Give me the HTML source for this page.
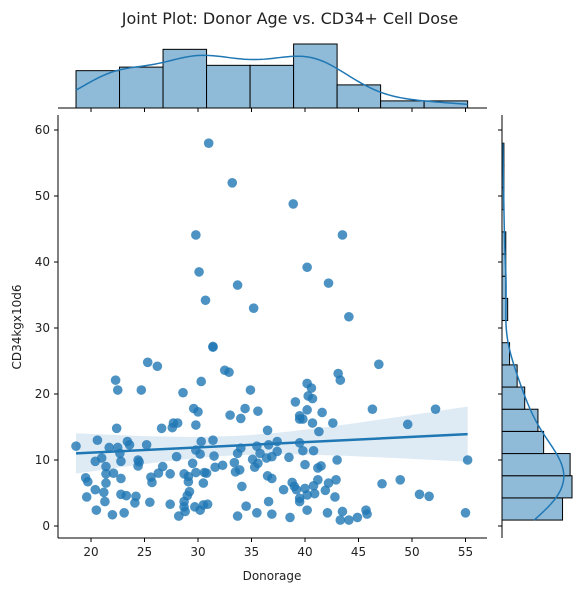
<!DOCTYPE html>
<html><head><meta charset="utf-8"><style>
body{margin:0;background:#fff;font-family:"Liberation Sans","DejaVu Sans",sans-serif}
svg text{font-family:"DejaVu Sans","Liberation Sans",sans-serif;fill:#222}
</style></head><body>
<svg id="c" width="585" height="592"></svg>
<script>
const donorAge=[18.6,20.6,20.4,21.0,21.4,21.4,22.1,22.8,21.4,19.5,19.7,20.4,21.2,19.6,21.3,20.5,22.0,23.1,22.8,23.3,24.2,24.1,25.5,22.4,22.3,22.5,24.7,25.3,26.2,21.7,22.5,22.7,22.8,23.4,23.6,24.4,24.5,24.4,25.2,26.6,27.7,28.1,27.6,28.0,26.7,26.3,25.6,25.7,27.4,28.6,29.6,30.0,29.8,30.3,31.4,32.5,32.9,30.3,29.8,30.2,29.5,31.4,31.5,31.6,32.3,28.7,29.1,29.1,29.8,30.6,30.8,30.5,29.2,29.0,28.7,28.7,29.7,28.8,28.2,27.4,30.2,30.5,30.9,33.0,34.0,34.4,34.9,35.6,33.7,33.4,33.5,33.9,34.1,34.5,33.7,35.5,34.0,35.5,35.1,35.8,35.3,35.6,36.4,36.5,36.6,36.5,36.6,36.9,36.9,36.9,
37.4,37.4,38.5,38.6,39.1,40.2,40.6,40.3,40.7,40.2,39.5,39.5,39.8,40.7,41.6,41.3,42.6,39.5,39.8,40.8,40.0,41.2,41.5,43.0,43.1,43.3,46.9,46.3,49.6,52.2,55.2,41.2,40.8,42.2,42.9,41.9,40.9,40.2,40.0,38.8,39.0,39.2,39.5,39.5,38.0,42.8,40.2,42.1,43.5,43.3,44.1,44.9,45.7,45.8,47.2,48.9,50.7,51.6,55.0,
31.0,33.2,38.9,29.8,43.5,40.2,30.1,33.7,42.2,30.7,35.2,44.1,31.4];
const cd34Dose=[12.1,13.0,9.8,10.3,9.0,7.9,8.0,7.2,6.5,7.3,6.7,5.5,5.1,4.4,3.7,2.4,1.7,2.0,4.8,4.6,4.5,3.5,3.6,14.8,22.1,20.6,20.6,24.8,24.2,11.9,11.9,11.0,9.8,12.8,12.3,10.0,9.7,9.1,12.3,14.8,15.6,15.6,14.9,10.5,9.0,8.0,7.4,6.6,7.9,20.2,17.8,17.3,15.3,21.9,27.2,23.6,23.3,12.8,11.5,10.9,9.5,13.0,10.6,8.9,9.2,7.9,7.5,6.7,8.1,8.1,8.0,6.5,5.2,4.6,3.7,2.9,2.9,2.2,1.5,3.3,2.4,3.2,3.3,16.8,16.3,17.8,20.6,17.4,11.0,9.6,8.2,8.5,6.0,3.0,1.5,2.0,11.8,12.1,10.1,11.0,8.9,9.5,10.3,14.5,12.3,7.6,3.7,1.8,7.2,10.5,
12.8,11.3,10.4,1.3,18.8,21.6,20.9,19.7,19.3,17.6,16.7,16.2,16.2,15.6,17.2,14.3,15.6,12.6,11.4,11.4,9.3,8.8,9.1,10.0,23.1,22.1,24.5,17.7,15.4,17.7,10.0,7.0,6.1,6.5,7.0,5.4,4.9,4.7,5.7,6.6,6.0,5.5,4.2,3.7,5.5,4.4,2.4,2.0,2.2,0.9,0.9,1.3,2.4,1.8,6.4,7.0,4.8,4.5,2.0,
58.0,52.0,48.8,44.1,44.1,39.2,38.5,36.5,36.8,34.2,33.0,31.7,27.1];
const xTicks=[20,25,30,35,40,45,50,55];
const yTicks=[0,10,20,30,40,50,60];
const xBinsCount=9, yBinsCount=17;

const NS="http://www.w3.org/2000/svg",svg=document.getElementById('c');
function mk(t,a,p){const e=document.createElementNS(NS,t);for(const k in a)e.setAttribute(k,a[k]);(p||svg).appendChild(e);return e;}
const L=58,R=487,T=115,B=538;
const sx=v=>91+(v-20)*10.7, sy=v=>526-v*6.6;
const n=donorAge.length;
let mx=0,my=0;for(let i=0;i<n;i++){mx+=donorAge[i];my+=cd34Dose[i];}mx/=n;my/=n;
let sxx=0,sxy=0;for(let i=0;i<n;i++){sxx+=(donorAge[i]-mx)**2;sxy+=(donorAge[i]-mx)*(cd34Dose[i]-my);}
const b1=sxy/sxx,b0=my-b1*mx;let sse=0;for(let i=0;i<n;i++)sse+=(cd34Dose[i]-b0-b1*donorAge[i])**2;
const s=Math.sqrt(sse/(n-2));
const xmin=Math.min(...donorAge),xmax=Math.max(...donorAge);
let up=[],lo=[];for(let k=0;k<=50;k++){const x=xmin+(xmax-xmin)*k/50,yh=b0+b1*x,se=s*Math.sqrt(1/n+(x-mx)**2/sxx)*1.97;up.push(sx(x)+','+sy(yh+se));lo.unshift(sx(x)+','+sy(yh-se));}
const band=mk('polygon',{points:up.concat(lo).join(' '),fill:'#1f77b4','fill-opacity':0.15});

const g=mk('g',{});
for(let i=0;i<n;i++){const c=mk('circle',{cx:sx(donorAge[i]),cy:sy(cd34Dose[i]),r:4.8,fill:'#1f77b4','fill-opacity':0.8},g);
}
const rl=mk('line',{x1:sx(xmin),y1:sy(b0+b1*xmin),x2:sx(xmax),y2:sy(b0+b1*xmax),stroke:'#1f77b4','stroke-width':2.5});

mk('line',{x1:L,y1:T,x2:L,y2:B,stroke:'#000','stroke-width':1});
mk('line',{x1:L,y1:B,x2:R,y2:B,stroke:'#000','stroke-width':1});
xTicks.forEach(v=>{mk('line',{x1:sx(v),x2:sx(v),y1:B,y2:B+4,stroke:'#000'});const t=mk('text',{x:sx(v),y:B+18,'text-anchor':'middle','font-size':12});t.textContent=v;
 mk('line',{x1:sx(v),x2:sx(v),y1:108,y2:112,stroke:'#000'});});
yTicks.forEach(v=>{mk('line',{x1:L-4,x2:L,y1:sy(v),y2:sy(v),stroke:'#000'});const t=mk('text',{x:L-8,y:sy(v)+4,'text-anchor':'end','font-size':12});t.textContent=v;
 mk('line',{x1:498,x2:502,y1:sy(v),y2:sy(v),stroke:'#000'});});
let t=mk('text',{x:272,y:580,'text-anchor':'middle','font-size':12});t.textContent='Donorage';
t=mk('text',{x:0,y:0,'text-anchor':'middle','font-size':12,transform:'translate(21,327) rotate(-90)'});t.textContent='CD34kgx10d6';
t=mk('text',{x:290,y:24,'text-anchor':'middle','font-size':16});t.textContent='Joint Plot: Donor Age vs. CD34+ Cell Dose';
function hist(arr,k){const mn=Math.min(...arr),mx2=Math.max(...arr),w=(mx2-mn)/k,c=new Array(k).fill(0);arr.forEach(v=>{c[Math.min(k-1,Math.floor((v-mn)/w))]++;});return{mn,w,c};}
function kde(arr,x){const m=arr.reduce((a,b)=>a+b,0)/arr.length,sd=Math.sqrt(arr.reduce((a,b)=>a+(b-m)**2,0)/(arr.length-1)),h=sd*Math.pow(arr.length,-0.2);let d=0;arr.forEach(v=>{d+=Math.exp(-0.5*((x-v)/h)**2);});return d/(arr.length*h*Math.sqrt(2*Math.PI));}
const hx=hist(donorAge,xBinsCount),mxc=Math.max(...hx.c),hs=64/mxc;
hx.c.forEach((c,i)=>{const r=mk('rect',{x:sx(hx.mn+i*hx.w),y:108-c*hs,width:hx.w*10.7,height:c*hs,fill:'#8fbbd9',stroke:'#000','stroke-width':1});});
let pts=[];const xa=Math.min(...donorAge),xb=Math.max(...donorAge);
for(let k=0;k<=100;k++){const x=xa+(xb-xa)*k/100;pts.push(sx(x)+','+(108-kde(donorAge,x)*n*hx.w*hs));}
let p=mk('polyline',{points:pts.join(' '),fill:'none',stroke:'#1f77b4','stroke-width':1.5});
mk('line',{x1:L,y1:108,x2:R,y2:108,stroke:'#000'});
const hy=hist(cd34Dose,yBinsCount),myc=Math.max(...hy.c),ws=70/myc;
hy.c.forEach((c,i)=>{const r=mk('rect',{x:502,y:sy(hy.mn+(i+1)*hy.w),width:c*ws,height:hy.w*6.6,fill:'#8fbbd9',stroke:'#000','stroke-width':1});});
pts=[];const ya=Math.min(...cd34Dose),yb=Math.max(...cd34Dose);
for(let k=0;k<=120;k++){const y=ya+(yb-ya)*k/120;pts.push((502+kde(cd34Dose,y)*n*hy.w*ws)+','+sy(y));}
p=mk('polyline',{points:pts.join(' '),fill:'none',stroke:'#1f77b4','stroke-width':1.5});
mk('line',{x1:502,y1:T,x2:502,y2:B,stroke:'#000'});
</script></body></html>
